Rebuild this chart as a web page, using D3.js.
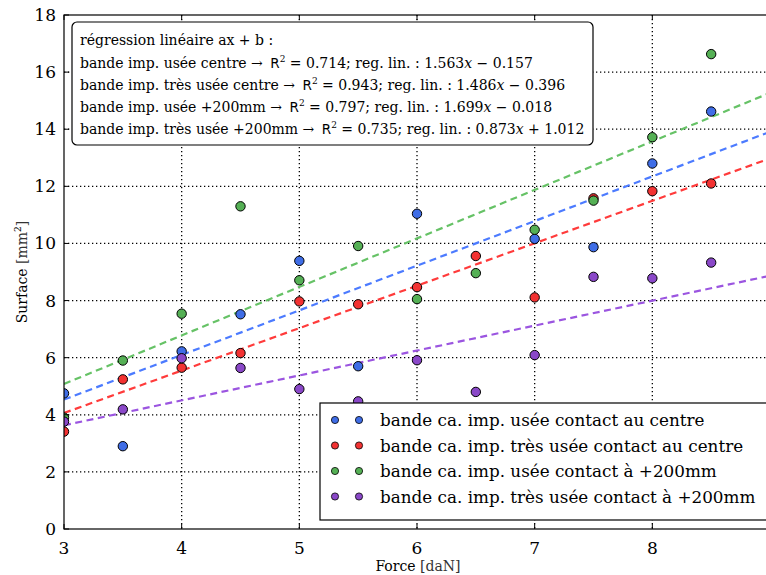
<!DOCTYPE html>
<html><head><meta charset="utf-8">
<script src="https://cdn.jsdelivr.net/npm/d3@7/dist/d3.min.js"></script>
<style>
body{margin:0;background:#fff;}
svg{display:block;}
</style></head>
<body>
<svg id="chart" width="766" height="575"></svg>
<script>
// ---- data ----
const forces = [3, 3.5, 4, 4.5, 5, 5.5, 6, 6.5, 7, 7.5, 8, 8.5];
const usCentre   = [4.75, 2.9, 6.22, 7.52, 9.39, 5.7, 11.04, null, 10.16, 9.87, 12.8, 14.62];
const tusCentre  = [3.41, 5.24, 5.65, 6.16, 7.97, 7.87, 8.47, 9.56, 8.11, 11.58, 11.83, 12.1];
const us200      = [3.9, 5.9, 7.54, 11.3, 8.71, 9.91, 8.05, 8.96, 10.48, 11.5, 13.72, 16.63];
const tus200     = [3.76, 4.19, 5.98, 5.64, 4.9, 4.47, 5.91, 4.8, 6.09, 8.83, 8.78, 9.33];
const seriesNames = ["bande ca. imp. usée contact au centre", "bande ca. imp. très usée contact au centre",
                     "bande ca. imp. usée contact à +200mm", "bande ca. imp. très usée contact à +200mm"];
const regNames = ["bande imp. usée centre", "bande imp. très usée centre", "bande imp. usée +200mm", "bande imp. très usée +200mm"];
const slopes = [1.563, 1.486, 1.699, 0.873];
const intercepts = [-0.157, -0.396, -0.018, 1.012];
const r2 = ["0.714", "0.943", "0.797", "0.735"];
const slopeLabels = ["1.563", "1.486", "1.699", "0.873"];
const interceptLabels = ["− 0.157", "− 0.396", "− 0.018", "+ 1.012"];
const xTicks = [3, 4, 5, 6, 7, 8];
const yTicks = [0, 2, 4, 6, 8, 10, 12, 14, 16, 18];
const xGrid = [4, 5, 6, 7, 8];
const yGrid = [2, 4, 6, 8, 10, 12, 14, 16];
const xDomain = [3, 9];
const yDomain = [0, 18];
const pointColors = ["#3f6de6", "#f23232", "#55b055", "#8a48c8"];
const lineColors = ["#4c7bff", "#ff3b3b", "#66c266", "#9b55e0"];

const allSeries = [usCentre, tusCentre, us200, tus200];
const SERIF = "DejaVu Serif";

// ---- layout ----
const svg = d3.select("#chart");
const L = 64, T = 15, B = 529, R = 770;
const x = d3.scaleLinear().domain(xDomain).range([L, R]);
const y = d3.scaleLinear().domain(yDomain).range([B, T]);

// grid
const grid = svg.append("g");
grid.selectAll("line.vx").data(xGrid).enter().append("line")
  .attr("x1", d => x(d)).attr("x2", d => x(d)).attr("y1", T).attr("y2", B)
  .attr("stroke", "#000").attr("stroke-width", 1.3).attr("stroke-dasharray", "1.3,2.7");
grid.selectAll("line.hy").data(yGrid).enter().append("line")
  .attr("x1", L).attr("x2", R).attr("y1", d => y(d)).attr("y2", d => y(d))
  .attr("stroke", "#000").attr("stroke-width", 1.3).attr("stroke-dasharray", "1.3,2.7");

// regression lines
svg.append("clipPath").attr("id", "clip").append("rect")
  .attr("x", L).attr("y", T).attr("width", R - L).attr("height", B - T);
const plot = svg.append("g").attr("clip-path", "url(#clip)");
slopes.forEach((a, i) => {
  const b = intercepts[i];
  plot.append("line")
    .attr("x1", x(xDomain[0])).attr("y1", y(a * xDomain[0] + b))
    .attr("x2", x(xDomain[1])).attr("y2", y(a * xDomain[1] + b))
    .attr("stroke", lineColors[i]).attr("stroke-width", 2.2)
    .attr("stroke-dasharray", "7,4.5");
});

// points
allSeries.forEach((vals, i) => {
  const pts = forces.map((f, j) => [f, vals[j]]).filter(p => p[1] != null);
  plot.selectAll(null).data(pts).enter().append("circle")
    .attr("cx", d => x(d[0])).attr("cy", d => y(d[1])).attr("r", 4.7)
    .attr("fill", pointColors[i]).attr("stroke", "#000").attr("stroke-width", 1);
});

// axes ticks (inside)
const axes = svg.append("g");
xTicks.forEach(t => {
  axes.append("line").attr("x1", x(t)).attr("x2", x(t)).attr("y1", B).attr("y2", B - 5).attr("stroke", "#000");
  axes.append("line").attr("x1", x(t)).attr("x2", x(t)).attr("y1", T).attr("y2", T + 5).attr("stroke", "#000");
  axes.append("text").attr("x", x(t)).attr("y", B + 25).attr("text-anchor", "middle")
    .attr("font-family", SERIF).attr("font-size", 17).text(t);
});
yTicks.forEach(t => {
  axes.append("line").attr("x1", L).attr("x2", L + 5).attr("y1", y(t)).attr("y2", y(t)).attr("stroke", "#000");
  axes.append("text").attr("x", L - 8).attr("y", y(t) + 6).attr("text-anchor", "end")
    .attr("font-family", SERIF).attr("font-size", 17).text(t);
});
// frame
axes.append("rect").attr("x", L).attr("y", T).attr("width", R - L).attr("height", B - T)
  .attr("fill", "none").attr("stroke", "#000").attr("stroke-width", 1.2);

// axis labels
const xl = svg.append("text").attr("x", 418).attr("y", 571).attr("text-anchor", "middle")
  .attr("font-family", SERIF).attr("font-size", 14);
xl.append("tspan").text("Force ");
xl.append("tspan").attr("fill", "#333").text("[daN]");
const yl = svg.append("text").attr("transform", "translate(27,272) rotate(-90)").attr("text-anchor", "middle")
  .attr("font-family", SERIF).attr("font-size", 14);
yl.append("tspan").text("Surface ");
yl.append("tspan").attr("fill", "#333").text("[mm");
yl.append("tspan").attr("font-size", 9).attr("dy", -6).text("2");
yl.append("tspan").attr("dy", 6).attr("fill", "#333").text("]");

// regression info box
const box = svg.append("g");
box.append("rect").attr("x", 72).attr("y", 22).attr("width", 521).attr("height", 123)
  .attr("rx", 5).attr("fill", "#fff").attr("stroke", "#000").attr("stroke-width", 1.2);
box.append("text").attr("x", 80).attr("y", 45).attr("font-family", SERIF).attr("font-size", 14)
  .text("régression linéaire ax + b :");
regNames.forEach((n, i) => {
  const t = box.append("text").attr("x", 80).attr("y", 68 + i * 22).attr("font-family", SERIF).attr("font-size", 14);
  t.append("tspan").text(n + " → ");
  t.append("tspan").attr("font-family", "DejaVu Sans").attr("font-size", 13.5).attr("dx", 3).text("R");
  t.append("tspan").attr("font-size", 9).attr("dy", -6).text("2");
  t.append("tspan").attr("dy", 6).text(" = " + r2[i] + ";  reg. lin. : " + slopeLabels[i]);
  t.append("tspan").attr("font-style", "italic").text("x");
  t.append("tspan").text(" " + interceptLabels[i]);
});

// series legend
const leg = svg.append("g");
leg.append("rect").attr("x", 320).attr("y", 403).attr("width", 460).attr("height", 117)
  .attr("fill", "#fff").attr("stroke", "#000").attr("stroke-width", 1.2);
seriesNames.forEach((n, i) => {
  const cy = 420 + i * 25.5;
  [335, 359].forEach(cx => leg.append("circle").attr("cx", cx).attr("cy", cy).attr("r", 3.6)
    .attr("fill", pointColors[i]).attr("stroke", "#000").attr("stroke-width", 0.8));
  leg.append("text").attr("x", 380).attr("y", cy + 6).attr("font-family", SERIF).attr("font-size", 16.8).text(n);
});
</script>
</body></html>
